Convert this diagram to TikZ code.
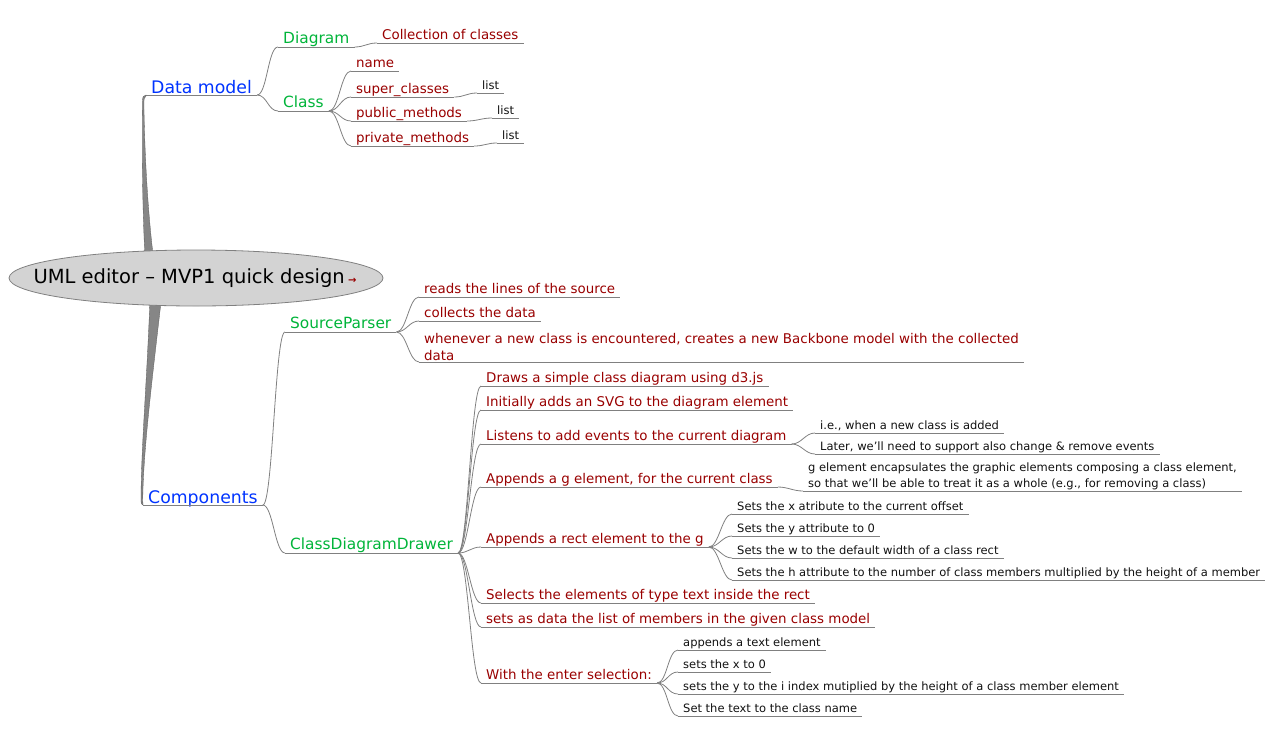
\documentclass[tikz,border=0pt]{standalone}
\usepackage{fontspec}
\setmainfont{DejaVu Sans}
\usepackage{tikz}
\usetikzlibrary{calc,shapes.geometric}

\definecolor{fmblue}{HTML}{0033FF}
\definecolor{fmgreen}{HTML}{00B439}
\definecolor{fmred}{HTML}{990000}
\definecolor{fmblack}{HTML}{111111}
\definecolor{edgegray}{HTML}{808080}
\definecolor{rootfill}{HTML}{D3D3D3}

\tikzset{
  topic/.style={anchor=south west, inner xsep=5pt, inner ysep=1pt, text depth=.2em, align=left},
  rootshape/.style={draw=edgegray, fill=rootfill, line width=0.8pt},
  rootnode/.style={inner sep=0pt, font=\fontsize{19.5}{23}\selectfont},
  lvlone/.style={topic, text=fmblue, text depth=0pt, inner ysep=1.5pt, font=\fontsize{17.3}{21}\selectfont},
  lvltwo/.style={topic, text=fmgreen, font=\fontsize{15.4}{19}\selectfont},
  lvlthree/.style={topic, text=fmred, font=\fontsize{13.4}{17}\selectfont},
  lvlfour/.style={topic, text=fmblack, font=\fontsize{11.5}{16}\selectfont},
  branch/.style={draw=edgegray, line width=0.8pt},
  trunk/.style={fill=edgegray!95, draw=edgegray!70!black, line width=0.3pt},
}

\begin{document}
\begin{tikzpicture}[x=1pt,y=-1pt]
  \useasboundingbox (0,0) rectangle (1277,737);

  % main topics
  \node[lvlone] (datamodel) at (146,95) {Data model};
  \node[lvlone] (components) at (143,505) {Components};

  % data model
  \node[lvltwo] (diagram) at (278,47) {Diagram};
  \node[lvltwo] (class) at (278,111) {Class};
  \node[lvlthree] (collection) at (377,43) {Collection of classes};
  \node[lvlthree] (name) at (351,71) {name};
  \node[lvlthree] (superclasses) at (351,97) {super\_classes};
  \node[lvlthree] (publicm) at (351,121) {public\_methods};
  \node[lvlthree] (privatem) at (351,146) {private\_methods};
  \node[lvlfour] (listsuper) at (477,93) {list};
  \node[lvlfour] (listpublic) at (492,118) {list};
  \node[lvlfour] (listprivate) at (497,143) {list};

  % components
  \node[lvltwo] (sourceparser) at (285,332) {SourceParser};
  \node[lvlthree] (reads) at (419,297) {reads the lines of the source};
  \node[lvlthree] (collects) at (419,321) {collects the data};
  \node[lvlthree, text depth={}] (whenever) at (419,362) {whenever a new class is encountered, creates a new Backbone model with the collected\\data};

  \node[lvltwo] (classdrawer) at (285,553) {ClassDiagramDrawer};
  \node[lvlthree] (draws) at (481,386) {Draws a simple class diagram using d3.js};
  \node[lvlthree] (initially) at (481,410) {Initially adds an SVG to the diagram element};
  \node[lvlthree] (listens) at (481,444) {Listens to add events to the current diagram};
  \node[lvlthree] (appendsg) at (481,487) {Appends a g element, for the current class};
  \node[lvlthree] (appendsrect) at (481,547) {Appends a rect element to the g};
  \node[lvlthree] (selects) at (481,603) {Selects the elements of type text inside the rect};
  \node[lvlthree] (setsdata) at (481,627) {sets as data the list of members in the given class model};
  \node[lvlthree] (enter) at (481,683) {With the enter selection:};

  \node[lvlfour] (ie) at (815,433) {i.e., when a new class is added};
  \node[lvlfour] (later) at (815,454) {Later, we'll need to support also change \& remove events};
  \node[lvlfour, text depth={}] (gelem) at (803,491) {g element encapsulates the graphic elements composing a class element,\\so that we'll be able to treat it as a whole (e.g., for removing a class)};

  \node[lvlfour] (rx) at (732,514) {Sets the x atribute to the current offset};
  \node[lvlfour] (ry) at (732,536) {Sets the y attribute to 0};
  \node[lvlfour] (rw) at (732,558) {Sets the w to the default width of a class rect};
  \node[lvlfour] (rh) at (732,580) {Sets the h attribute to the number of class members multiplied by the height of a member};

  \node[lvlfour] (appendtext) at (678,650) {appends a text element};
  \node[lvlfour] (setx) at (678,672) {sets the x to 0};
  \node[lvlfour] (sety) at (678,694) {sets the y to the i index mutiplied by the height of a class member element};
  \node[lvlfour] (settext) at (678,716) {Set the text to the class name};

  % underlines
  \foreach \n in {datamodel,components,diagram,class,collection,name,superclasses,publicm,privatem,
      listsuper,listpublic,listprivate,sourceparser,reads,collects,whenever,classdrawer,draws,initially,
      listens,appendsg,appendsrect,selects,setsdata,enter,ie,later,gelem,rx,ry,rw,rh,appendtext,setx,sety,settext}
    \draw[branch] (\n.south west) -- (\n.south east);

  % branches
  \foreach \a/\b in {datamodel/diagram,datamodel/class,diagram/collection,class/name,class/superclasses,
      class/publicm,class/privatem,superclasses/listsuper,publicm/listpublic,privatem/listprivate,
      components/sourceparser,components/classdrawer,sourceparser/reads,sourceparser/collects,
      sourceparser/whenever,classdrawer/draws,classdrawer/initially,classdrawer/listens,classdrawer/appendsg,
      classdrawer/appendsrect,classdrawer/selects,classdrawer/setsdata,classdrawer/enter,listens/ie,
      listens/later,appendsg/gelem,appendsrect/rx,appendsrect/ry,appendsrect/rw,appendsrect/rh,
      enter/appendtext,enter/setx,enter/sety,enter/settext}
    \draw[branch] (\a.south east) .. controls +(10,0) and +(-10,0) .. (\b.south west);

  % thick trunks from the root
  \filldraw[trunk] (145,258) .. controls (142,200) and (142,140) .. (142.5,101)
    .. controls (142.5,97) and (143.5,95) .. (datamodel.south west)
    -- ++(0,1.2) .. controls (144.6,96.4) and (143.9,98.5) .. (143.9,103)
    .. controls (144.5,150) and (147.5,210) .. (153.5,258) -- cycle;
  \filldraw[trunk] (150,298) .. controls (147,380) and (141,450) .. (141,500)
    .. controls (141,503.5) and (141.6,505) .. (components.south west)
    -- ++(0,-1.2) .. controls (142.8,503) and (142.6,501) .. (142.8,497)
    .. controls (143.5,450) and (152,380) .. (161.5,298) -- cycle;

  % central topic
  \filldraw[rootshape] (196,278) ellipse [x radius=187, y radius=28];
  \node[rootnode] (root) at (195,278) {UML editor – MVP1 quick design\,{\color{fmred}\fontsize{10}{10}\selectfont\textbf{→}}};
\end{tikzpicture}
\end{document}
